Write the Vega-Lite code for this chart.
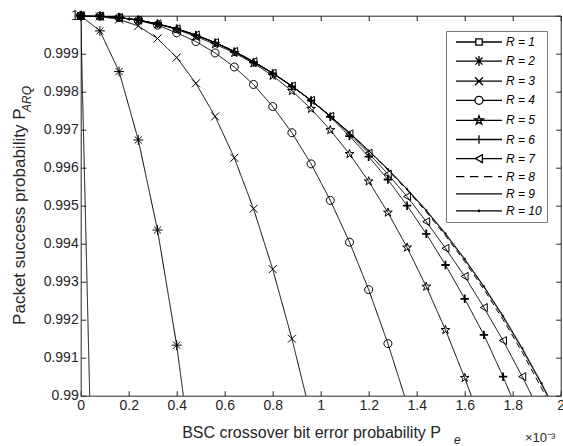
{
  "$schema": "https://vega.github.io/schema/vega-lite/v6.json",
  "width": 480,
  "height": 380,
  "autosize": {"type": "none"},
  "padding": {"left": 80.7, "top": 15.7, "right": 2.3, "bottom": 50.3},
  "background": "white",
  "config": {
    "view": {"stroke": null},
    "font": "Liberation Sans",
    "axis": {
      "grid": false,
      "domainColor": "#262626",
      "domainWidth": 1,
      "tickColor": "#262626",
      "tickWidth": 1,
      "tickSize": -5,
      "labelColor": "#262626",
      "labelFont": "Liberation Sans",
      "labelFontSize": 14,
      "titleColor": "#262626",
      "titleFont": "Liberation Sans",
      "titleFontSize": 16,
      "titleFontWeight": "normal"
    }
  },
  "datasets": {
    "curves": [
      {"R": 1, "x": 0, "y": 1}, {"R": 1, "x": 0.08, "y": 0.97867},
      {"R": 2, "x": 0, "y": 1}, {"R": 2, "x": 0.08, "y": 0.9996}, {"R": 2, "x": 0.16, "y": 0.99853}, {"R": 2, "x": 0.24, "y": 0.99673}, {"R": 2, "x": 0.32, "y": 0.99436}, {"R": 2, "x": 0.4, "y": 0.99133}, {"R": 2, "x": 0.48, "y": 0.9875},
      {"R": 3, "x": 0, "y": 1}, {"R": 3, "x": 0.08, "y": 0.99998}, {"R": 3, "x": 0.16, "y": 0.9999}, {"R": 3, "x": 0.24, "y": 0.99973}, {"R": 3, "x": 0.32, "y": 0.9994}, {"R": 3, "x": 0.4, "y": 0.9989}, {"R": 3, "x": 0.48, "y": 0.99822}, {"R": 3, "x": 0.56, "y": 0.99735}, {"R": 3, "x": 0.64, "y": 0.99626}, {"R": 3, "x": 0.72, "y": 0.99492}, {"R": 3, "x": 0.8, "y": 0.99333}, {"R": 3, "x": 0.88, "y": 0.9915}, {"R": 3, "x": 0.96, "y": 0.98945},
      {"R": 4, "x": 0, "y": 1}, {"R": 4, "x": 0.08, "y": 0.999985}, {"R": 4, "x": 0.16, "y": 0.99995}, {"R": 4, "x": 0.24, "y": 0.999875}, {"R": 4, "x": 0.32, "y": 0.99975}, {"R": 4, "x": 0.4, "y": 0.99955}, {"R": 4, "x": 0.48, "y": 0.99932}, {"R": 4, "x": 0.56, "y": 0.99902}, {"R": 4, "x": 0.64, "y": 0.99865}, {"R": 4, "x": 0.72, "y": 0.99819}, {"R": 4, "x": 0.8, "y": 0.99761}, {"R": 4, "x": 0.88, "y": 0.99692}, {"R": 4, "x": 0.96, "y": 0.9961}, {"R": 4, "x": 1.04, "y": 0.99514}, {"R": 4, "x": 1.12, "y": 0.99404}, {"R": 4, "x": 1.2, "y": 0.99279}, {"R": 4, "x": 1.28, "y": 0.99137}, {"R": 4, "x": 1.36, "y": 0.98978},
      {"R": 5, "x": 0, "y": 1}, {"R": 5, "x": 0.08, "y": 0.999989}, {"R": 5, "x": 0.16, "y": 0.999951}, {"R": 5, "x": 0.24, "y": 0.999883}, {"R": 5, "x": 0.32, "y": 0.99978}, {"R": 5, "x": 0.4, "y": 0.99964}, {"R": 5, "x": 0.48, "y": 0.99945}, {"R": 5, "x": 0.56, "y": 0.99925}, {"R": 5, "x": 0.64, "y": 0.99902}, {"R": 5, "x": 0.72, "y": 0.99875}, {"R": 5, "x": 0.8, "y": 0.99842}, {"R": 5, "x": 0.88, "y": 0.99802}, {"R": 5, "x": 0.96, "y": 0.99755}, {"R": 5, "x": 1.04, "y": 0.99699}, {"R": 5, "x": 1.12, "y": 0.99636}, {"R": 5, "x": 1.2, "y": 0.99564}, {"R": 5, "x": 1.28, "y": 0.99482}, {"R": 5, "x": 1.36, "y": 0.9939}, {"R": 5, "x": 1.44, "y": 0.99287}, {"R": 5, "x": 1.52, "y": 0.99173}, {"R": 5, "x": 1.6, "y": 0.99047}, {"R": 5, "x": 1.68, "y": 0.9891},
      {"R": 6, "x": 0, "y": 1}, {"R": 6, "x": 0.08, "y": 0.999989}, {"R": 6, "x": 0.16, "y": 0.999951}, {"R": 6, "x": 0.24, "y": 0.999884}, {"R": 6, "x": 0.32, "y": 0.999785}, {"R": 6, "x": 0.4, "y": 0.999655}, {"R": 6, "x": 0.48, "y": 0.99949}, {"R": 6, "x": 0.56, "y": 0.99929}, {"R": 6, "x": 0.64, "y": 0.99905}, {"R": 6, "x": 0.72, "y": 0.99877}, {"R": 6, "x": 0.8, "y": 0.99848}, {"R": 6, "x": 0.88, "y": 0.99814}, {"R": 6, "x": 0.96, "y": 0.99777}, {"R": 6, "x": 1.04, "y": 0.99734}, {"R": 6, "x": 1.12, "y": 0.99683}, {"R": 6, "x": 1.2, "y": 0.99629}, {"R": 6, "x": 1.28, "y": 0.99569}, {"R": 6, "x": 1.36, "y": 0.995}, {"R": 6, "x": 1.44, "y": 0.99426}, {"R": 6, "x": 1.52, "y": 0.99344}, {"R": 6, "x": 1.6, "y": 0.99255}, {"R": 6, "x": 1.68, "y": 0.9916}, {"R": 6, "x": 1.76, "y": 0.9905}, {"R": 6, "x": 1.84, "y": 0.9893},
      {"R": 7, "x": 0, "y": 1}, {"R": 7, "x": 0.08, "y": 0.999989}, {"R": 7, "x": 0.16, "y": 0.999951}, {"R": 7, "x": 0.24, "y": 0.999884}, {"R": 7, "x": 0.32, "y": 0.999785}, {"R": 7, "x": 0.4, "y": 0.999655}, {"R": 7, "x": 0.48, "y": 0.999491}, {"R": 7, "x": 0.56, "y": 0.999293}, {"R": 7, "x": 0.64, "y": 0.999061}, {"R": 7, "x": 0.72, "y": 0.998793}, {"R": 7, "x": 0.8, "y": 0.998489}, {"R": 7, "x": 0.88, "y": 0.998149}, {"R": 7, "x": 0.96, "y": 0.997772}, {"R": 7, "x": 1.04, "y": 0.997355}, {"R": 7, "x": 1.12, "y": 0.99689}, {"R": 7, "x": 1.2, "y": 0.99638}, {"R": 7, "x": 1.28, "y": 0.99583}, {"R": 7, "x": 1.36, "y": 0.99524}, {"R": 7, "x": 1.44, "y": 0.99458}, {"R": 7, "x": 1.52, "y": 0.99388}, {"R": 7, "x": 1.6, "y": 0.99314}, {"R": 7, "x": 1.68, "y": 0.99232}, {"R": 7, "x": 1.76, "y": 0.99145}, {"R": 7, "x": 1.84, "y": 0.9905}, {"R": 7, "x": 1.92, "y": 0.98948},
      {"R": 8, "x": 0, "y": 1}, {"R": 8, "x": 0.08, "y": 0.999989}, {"R": 8, "x": 0.16, "y": 0.999951}, {"R": 8, "x": 0.24, "y": 0.999884}, {"R": 8, "x": 0.32, "y": 0.999785}, {"R": 8, "x": 0.4, "y": 0.999655}, {"R": 8, "x": 0.48, "y": 0.999491}, {"R": 8, "x": 0.56, "y": 0.999293}, {"R": 8, "x": 0.64, "y": 0.999061}, {"R": 8, "x": 0.72, "y": 0.998793}, {"R": 8, "x": 0.8, "y": 0.998489}, {"R": 8, "x": 0.88, "y": 0.998149}, {"R": 8, "x": 0.96, "y": 0.997772}, {"R": 8, "x": 1.04, "y": 0.997357}, {"R": 8, "x": 1.12, "y": 0.996915}, {"R": 8, "x": 1.2, "y": 0.99644}, {"R": 8, "x": 1.28, "y": 0.99594}, {"R": 8, "x": 1.36, "y": 0.99541}, {"R": 8, "x": 1.44, "y": 0.994835}, {"R": 8, "x": 1.52, "y": 0.99421}, {"R": 8, "x": 1.6, "y": 0.99353}, {"R": 8, "x": 1.68, "y": 0.9928}, {"R": 8, "x": 1.76, "y": 0.992}, {"R": 8, "x": 1.84, "y": 0.99114}, {"R": 8, "x": 1.92, "y": 0.9902}, {"R": 8, "x": 2, "y": 0.98921},
      {"R": 9, "x": 0, "y": 1}, {"R": 9, "x": 0.08, "y": 0.999989}, {"R": 9, "x": 0.16, "y": 0.999951}, {"R": 9, "x": 0.24, "y": 0.999884}, {"R": 9, "x": 0.32, "y": 0.999785}, {"R": 9, "x": 0.4, "y": 0.999655}, {"R": 9, "x": 0.48, "y": 0.999491}, {"R": 9, "x": 0.56, "y": 0.999293}, {"R": 9, "x": 0.64, "y": 0.999061}, {"R": 9, "x": 0.72, "y": 0.998793}, {"R": 9, "x": 0.8, "y": 0.998489}, {"R": 9, "x": 0.88, "y": 0.998149}, {"R": 9, "x": 0.96, "y": 0.997772}, {"R": 9, "x": 1.04, "y": 0.997358}, {"R": 9, "x": 1.12, "y": 0.99692}, {"R": 9, "x": 1.2, "y": 0.99645}, {"R": 9, "x": 1.28, "y": 0.99596}, {"R": 9, "x": 1.36, "y": 0.99543}, {"R": 9, "x": 1.44, "y": 0.99487}, {"R": 9, "x": 1.52, "y": 0.99425}, {"R": 9, "x": 1.6, "y": 0.99358}, {"R": 9, "x": 1.68, "y": 0.99286}, {"R": 9, "x": 1.76, "y": 0.99207}, {"R": 9, "x": 1.84, "y": 0.99122}, {"R": 9, "x": 1.92, "y": 0.9903}, {"R": 9, "x": 2, "y": 0.98931},
      {"R": 10, "x": 0, "y": 1}, {"R": 10, "x": 0.08, "y": 0.999989}, {"R": 10, "x": 0.16, "y": 0.999951}, {"R": 10, "x": 0.24, "y": 0.999884}, {"R": 10, "x": 0.32, "y": 0.999785}, {"R": 10, "x": 0.4, "y": 0.999655}, {"R": 10, "x": 0.48, "y": 0.999491}, {"R": 10, "x": 0.56, "y": 0.999293}, {"R": 10, "x": 0.64, "y": 0.999061}, {"R": 10, "x": 0.72, "y": 0.998793}, {"R": 10, "x": 0.8, "y": 0.998489}, {"R": 10, "x": 0.88, "y": 0.998149}, {"R": 10, "x": 0.96, "y": 0.997772}, {"R": 10, "x": 1.04, "y": 0.997358}, {"R": 10, "x": 1.12, "y": 0.99692}, {"R": 10, "x": 1.2, "y": 0.99645}, {"R": 10, "x": 1.28, "y": 0.99596}, {"R": 10, "x": 1.36, "y": 0.99544}, {"R": 10, "x": 1.44, "y": 0.99488}, {"R": 10, "x": 1.52, "y": 0.99427}, {"R": 10, "x": 1.6, "y": 0.9936}, {"R": 10, "x": 1.68, "y": 0.99288}, {"R": 10, "x": 1.76, "y": 0.9921}, {"R": 10, "x": 1.84, "y": 0.99125}, {"R": 10, "x": 1.92, "y": 0.99033}, {"R": 10, "x": 2, "y": 0.98935}
    ]
  },
  "data": {"name": "curves"},
  "layer": [
    {
      "mark": {"type": "line", "clip": true, "color": "black", "strokeWidth": 1},
      "encoding": {
        "x": {
          "field": "x", "type": "quantitative",
          "scale": {"domain": [0, 2], "nice": false, "zero": false},
          "axis": {
            "orient": "bottom",
            "values": [0, 0.2, 0.4, 0.6, 0.8, 1, 1.2, 1.4, 1.6, 1.8, 2],
            "format": "~g",
            "labelPadding": 8,
            "labelFlush": false,
            "title": "BSC crossover bit error probability P",
            "titleAlign": "left",
            "titleAnchor": "start",
            "titleX": 101,
            "titleY": 42,
            "titleBaseline": "alphabetic"
          }
        },
        "y": {
          "field": "y", "type": "quantitative",
          "scale": {"domain": [0.99, 1], "nice": false, "zero": false},
          "axis": {
            "orient": "left",
            "values": [0.99, 0.991, 0.992, 0.993, 0.994, 0.995, 0.996, 0.997, 0.998, 0.999, 1],
            "format": "~g",
            "labelPadding": 7.5,
            "labelFlush": false,
            "title": "Packet success probability P",
            "titleFontSize": 17,
            "titleAngle": 270,
            "titleAlign": "right",
            "titleAnchor": "start",
            "titleX": -55.7,
            "titleY": 92.3,
            "titleBaseline": "alphabetic"
          }
        },
        "detail": {"field": "R", "type": "nominal"},
        "strokeDash": {"condition": {"test": "datum.R == 8", "value": [6, 4]}, "value": [1, 0]}
      }
    },
    {
      "transform": [{"filter": "datum.R != 8 && datum.R != 9 && datum.y >= 0.98999"}],
      "mark": {"type": "point", "filled": false, "color": "black", "size": 64, "opacity": 1},
      "encoding": {
        "x": {"field": "x", "type": "quantitative", "axis": {"orient": "top", "values": [0, 0.2, 0.4, 0.6, 0.8, 1, 1.2, 1.4, 1.6, 1.8, 2], "labels": false, "title": null}},
        "y": {"field": "y", "type": "quantitative", "axis": {"orient": "right", "values": [0.99, 0.991, 0.992, 0.993, 0.994, 0.995, 0.996, 0.997, 0.998, 0.999, 1], "labels": false, "title": null}},
        "shape": {
          "field": "R", "type": "nominal", "legend": null,
          "scale": {
            "domain": [1, 2, 3, 4, 5, 6, 7, 10],
            "range": [
              "M-0.8,-0.8H0.8V0.8H-0.8Z",
              "M-1.25,0H1.25M0,-1.25V1.25M-0.88,-0.88L0.88,0.88M-0.88,0.88L0.88,-0.88",
              "M-1,-1L1,1M-1,1L1,-1",
              "M1,0A1,1,0,1,1,-1,0A1,1,0,1,1,1,0Z",
              "M0,-1.15L0.265,-0.364L1.094,-0.355L0.428,0.139L0.676,0.93L0,0.45L-0.676,0.93L-0.428,0.139L-1.094,-0.355L-0.265,-0.364Z",
              "M-1.05,0H1.05M0,-1.05V1.05",
              "M-0.9,0L0.85,-1L0.85,1Z",
              "M0.2,0A0.2,0.2,0,1,1,-0.2,0A0.2,0.2,0,1,1,0.2,0Z"
            ]
          }
        },
        "strokeWidth": {"condition": {"test": "datum.R == 6", "value": 1.8}, "value": 1}
      }
    },
    {
      "transform": [{"filter": "datum.x == 0"}],
      "mark": {"type": "point", "filled": false, "color": "black", "size": 64, "opacity": 0},
      "encoding": {
        "x": {"field": "x", "type": "quantitative", "axis": null},
        "y": {"field": "y", "type": "quantitative", "axis": null},
        "shape": {
          "field": "R", "type": "nominal",
          "scale": {
            "domain": [1, 2, 3, 4, 5, 6, 7, 8, 9, 10],
            "range": [
              "M-3.5,0H1.45M3.05,0H8M1.45,-0.8H3.05V0.8H1.45Z",
              "M-3.5,0H8M2.25,-1.25V1.25M1.37,-0.88L3.13,0.88M1.37,0.88L3.13,-0.88",
              "M-3.5,0H8M1.25,-1L3.25,1M1.25,1L3.25,-1",
              "M-3.5,0H1.25M3.25,0H8M3.25,0A1,1,0,1,1,1.25,0A1,1,0,1,1,3.25,0Z",
              "M-3.5,0H8M2.25,-1.15L2.515,-0.364L3.344,-0.355L2.678,0.139L2.926,0.93L2.25,0.45L1.574,0.93L1.822,0.139L1.156,-0.355L1.985,-0.364Z",
              "M-3.5,0H8M2.25,-1.05V1.05",
              "M-3.5,0H1.35M3.1,0H8M1.35,0L3.1,-1L3.1,1Z",
              "M-3.5,0H-1.42M0,0H2.08M3.5,0H5.58M7,0H8",
              "M-3.5,0H8",
              "M-3.5,0H8M2.45,0A0.2,0.2,0,1,1,2.05,0A0.2,0.2,0,1,1,2.45,0Z"
            ]
          },
          "legend": {
            "title": null,
            "orient": "none",
            "legendX": 365.3,
            "legendY": 15.3,
            "direction": "vertical",
            "labelExpr": "'R = ' + datum.label",
            "labelFont": "Liberation Sans",
            "labelFontStyle": "italic",
            "labelFontSize": 12,
            "labelColor": "black",
            "symbolSize": 64,
            "symbolOpacity": 1,
            "symbolStrokeColor": "black",
            "symbolFillColor": "transparent",
            "symbolStrokeWidth": 1.3,
            "symbolOffset": 13,
            "labelOffset": 30,
            "rowPadding": 5.1,
            "padding": 5,
            "strokeColor": "#7a7a7a",
            "fillColor": "white"
          }
        }
      }
    },
    {
      "data": {"values": [{"t": "ARQ"}]},
      "mark": {"type": "text", "font": "Liberation Sans", "fontStyle": "italic", "fontSize": 12, "color": "#262626", "angle": 270, "align": "left", "baseline": "alphabetic", "dx": 0, "dy": -49.7},
      "encoding": {
        "x": {"datum": 0, "type": "quantitative", "axis": null},
        "y": {"datum": 0.997466, "type": "quantitative", "axis": null},
        "text": {"field": "t"}
      }
    },
    {
      "data": {"values": [{"t": "e"}]},
      "mark": {"type": "text", "font": "Liberation Sans", "fontStyle": "italic", "fontSize": 12, "color": "#262626", "align": "left", "baseline": "alphabetic", "dy": 48},
      "encoding": {
        "x": {"datum": 1.5554, "type": "quantitative", "axis": null},
        "y": {"datum": 0.99, "type": "quantitative", "axis": null},
        "text": {"field": "t"}
      }
    },
    {
      "data": {"values": [{"t": "×10⁻³"}]},
      "mark": {"type": "text", "font": "Liberation Sans", "fontSize": 13, "color": "#262626", "align": "left", "baseline": "alphabetic", "dx": -35.7, "dy": 46},
      "encoding": {
        "x": {"datum": 2, "type": "quantitative", "axis": null},
        "y": {"datum": 0.99, "type": "quantitative", "axis": null},
        "text": {"field": "t"}
      }
    }
  ],
  "resolve": {"axis": {"x": "independent", "y": "independent"}, "scale": {"shape": "independent"}}
}
